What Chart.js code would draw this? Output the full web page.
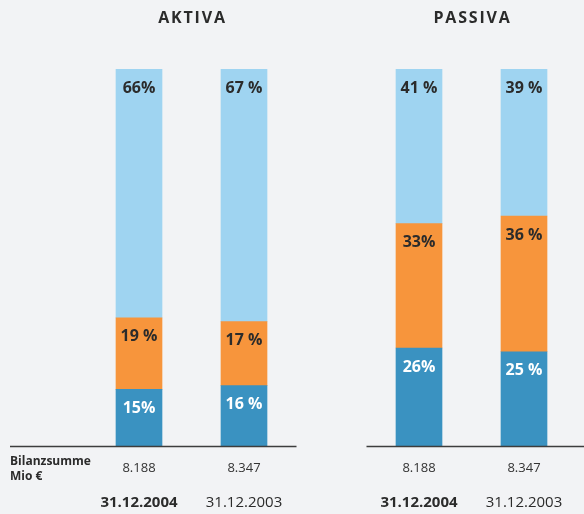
<!DOCTYPE html>
<html>
<head>
<meta charset="utf-8">
<script src="https://cdn.jsdelivr.net/npm/chart.js@4.4.1/dist/chart.umd.min.js"></script>
<style>
  html, body { margin: 0; padding: 0; background: #f2f3f5; }
  body { width: 584px; height: 514px; position: relative; overflow: hidden; }
  .wrap { position: absolute; top: 0; height: 514px; }
  #wa { left: 0; width: 300px; }
  #wp { left: 292px; width: 292px; }
  canvas { display: block; }
</style>
</head>
<body>
<div class="wrap" id="wa"><canvas id="ca" width="300" height="514"></canvas></div>
<div class="wrap" id="wp"><canvas id="cp" width="292" height="514"></canvas></div>
<script>
// ---- data ----
const dates = ['31.12.2004', '31.12.2003'];
const bilanzsumme = ['8.188', '8.347'];
const bilanzLabel = ['Bilanzsumme', 'Mio €'];
const titleAktiva = 'AKTIVA';
const titlePassiva = 'PASSIVA';

const aktivaBottom = [15, 16];
const aktivaMiddle = [19, 17];
const aktivaTop = [66, 67];
const aktivaBottomLabels = ['15%', '16 %'];
const aktivaMiddleLabels = ['19 %', '17 %'];
const aktivaTopLabels = ['66%', '67 %'];

const passivaBottom = [26, 25];
const passivaMiddle = [33, 36];
const passivaTop = [41, 39];
const passivaBottomLabels = ['26%', '25 %'];
const passivaMiddleLabels = ['33%', '36 %'];
const passivaTopLabels = ['41 %', '39 %'];

// ---- styles ----
const C_DARK = '#3a92c1';
const C_ORANGE = '#f7953c';
const C_LIGHT = '#9fd4f1';
const TXT = '#2b2b2b';
const FONT = '"Open Sans", "DejaVu Sans", sans-serif';

function makeDatasets(bottom, middle, top, lb, lm, lt) {
  return [
    { data: bottom, backgroundColor: C_DARK, pctLabels: lb, labelColor: '#ffffff' },
    { data: middle, backgroundColor: C_ORANGE, pctLabels: lm, labelColor: TXT },
    { data: top, backgroundColor: C_LIGHT, pctLabels: lt, labelColor: TXT }
  ].map(d => Object.assign(d, { barThickness: 46, borderWidth: 0 }));
}

const pctLabelPlugin = {
  id: 'pctLabels',
  afterDatasetsDraw(chart) {
    const ctx = chart.ctx;
    ctx.save();
    ctx.font = 'bold 16px ' + FONT;
    ctx.textAlign = 'center';
    ctx.textBaseline = 'middle';
    chart.data.datasets.forEach((ds, i) => {
      const meta = chart.getDatasetMeta(i);
      meta.data.forEach((el, j) => {
        ctx.fillStyle = ds.labelColor;
        ctx.fillText(ds.pctLabels[j], el.x, el.y + 19);
      });
    });
    ctx.restore();
  }
};

function decoPlugin(title, isLeft) {
  return {
    id: 'deco',
    afterDraw(chart) {
      const ctx = chart.ctx;
      const a = chart.chartArea;
      const xs = chart.scales.x;
      ctx.save();
      // baseline
      ctx.strokeStyle = '#3d3d3d';
      ctx.lineWidth = 1.5;
      ctx.beginPath();
      const y0 = chart.scales.y.getPixelForValue(0) + 0.5;
      if (isLeft) { ctx.moveTo(10, y0); ctx.lineTo(a.right, y0); }
      else { ctx.moveTo(a.left, y0); ctx.lineTo(chart.width, y0); }
      ctx.stroke();
      // title
      ctx.fillStyle = TXT;
      ctx.font = 'bold 16px ' + FONT;
      ctx.letterSpacing = '1.8px';
      ctx.textAlign = 'center';
      ctx.textBaseline = 'middle';
      ctx.fillText(title, (a.left + a.right) / 2 + 1, 18);
      ctx.letterSpacing = '0px';
      // dates
      dates.forEach((d, i) => {
        ctx.font = (i === 0 ? 'bold ' : '') + '15px ' + FONT;
        ctx.fillText(d, xs.getPixelForValue(i), 503);
      });
      // Bilanzsumme label
      if (isLeft) {
        ctx.textAlign = 'left';
        ctx.font = 'bold 12px ' + FONT;
        ctx.fillText(bilanzLabel[0], 10, 462);
        ctx.fillText(bilanzLabel[1], 10, 477);
      }
      ctx.restore();
    }
  };
}

function makeChart(id, datasets, title, isLeft, padL, padR) {
  return new Chart(document.getElementById(id), {
    type: 'bar',
    data: { labels: dates, datasets },
    options: {
      responsive: false,
      animation: false,
      layout: { padding: { left: padL, right: padR, top: 69, bottom: 0 } },
      plugins: { legend: { display: false }, tooltip: { enabled: false }, title: { display: false } },
      scales: {
        x: {
          stacked: true,
          grid: { display: false },
          border: { display: false },
          ticks: {
            padding: 6,
            color: '#333',
            font: { family: FONT, size: 13 },
            callback: (v, i) => bilanzsumme[i]
          },
          afterFit: s => { s.height = 68; }
        },
        y: { stacked: true, display: false, min: 0, max: 100 }
      }
    },
    plugins: [pctLabelPlugin, decoPlugin(title, isLeft)]
  });
}

makeChart('ca', makeDatasets(aktivaBottom, aktivaMiddle, aktivaTop, aktivaBottomLabels, aktivaMiddleLabels, aktivaTopLabels), titleAktiva, true, 86.5, 3.5);
makeChart('cp', makeDatasets(passivaBottom, passivaMiddle, passivaTop, passivaBottomLabels, passivaMiddleLabels, passivaTopLabels), titlePassiva, false, 74.5, 7.5);
</script>
</body>
</html>
